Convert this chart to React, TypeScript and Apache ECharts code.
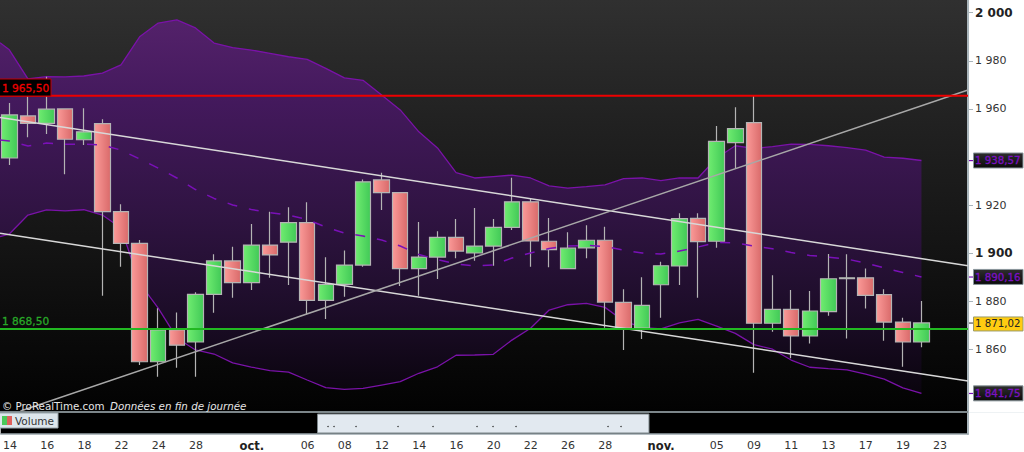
import React, { useEffect, useRef } from "react";
import * as echarts from "echarts";

const tradingDays = ["14","15","16","17","18","21","22","23","24","25","28","29","30","oct.","02","05","06","07","08","09","12","13","14","15","16","19","20","21","22","23","26","27","28","29","30","nov.","03","04","05","06","09","10","11","12","13","16","17","18","19","20","23","24"];
const hiddenLabels = [12, 14, 34, 36];
const extraLabels = [13, 35];

// [open, close, low, high]
const candles = [
  [1939.6,1957.5,1936.7,1962.5],[1957.1,1954.0,1948.2,1966],[1954.0,1959.9,1949.6,1973.4],[1960,1947.4,1932.8,1960],
  [1947.2,1950.5,1945,1960.3],[1953.9,1917.3,1882.3,1955.7],[1917.3,1904.1,1894.4,1920.4],[1904.1,1854.9,1853.5,1905.5],
  [1854.9,1868.1,1848.7,1877.1],[1868.1,1861.8,1852.4,1875.4],[1863.1,1882.9,1848.7,1883.8],[1882.9,1896.8,1875.3,1899.6],
  [1896.8,1887.8,1881.5,1902.7],[1887.8,1903.4,1884.7,1912.2],[1903.4,1899.3,1889.8,1917.3],[1904.6,1912.7,1886.8,1919.1],
  [1912.7,1880.4,1874.6,1921.2],[1880.4,1887.1,1872.7,1898.3],[1887.1,1895.1,1881.9,1901.1],[1895.1,1929.7,1894.4,1930.7],
  [1930.5,1925.2,1918,1933.5],[1925.2,1893.6,1886.4,1925.2],[1893.6,1898.4,1882.3,1913],[1898.4,1906.6,1889.3,1909.2],
  [1906.6,1900.9,1897.9,1914.2],[1900.1,1903,1896.9,1918.8],[1903,1910.8,1894.8,1914.2],[1910.8,1921.4,1909.7,1931.4],
  [1921.4,1905.1,1894.4,1922.8],[1905,1901.5,1894.2,1914.7],[1893.6,1902.1,1893.6,1908.7],[1902.2,1905.4,1897.9,1911.6],
  [1905.4,1879.7,1869,1911],[1879.6,1868.9,1859.8,1885],[1868.9,1878.3,1864.3,1890],[1886.9,1894.8,1873.2,1896.5],
  [1894.7,1914.4,1886.8,1916.6],[1914.5,1904.8,1881.5,1916.6],[1905,1946.5,1902.3,1952.9],[1946,1951.8,1935.3,1960.7],
  [1954.3,1870.9,1850.3,1965.4],[1870.9,1876.7,1867.4,1890.9],[1876.7,1865.6,1856.3,1884.7],[1865.6,1876,1862.5,1884.3],
  [1875.7,1889.4,1874,1899.7],[1889.4,1889.8,1864.6,1899.6],[1889.8,1882.5,1877,1893.7],[1882.8,1871.4,1863.6,1885],
  [1871.4,1863.1,1852.8,1873.2],[1863.1,1871.02,1860.9,1880.1],
];

// Bollinger bands: first value sits at the left edge of the pane, then one per candle
const upperBand = [1987.5,1984.6,1972.5,1973.4,1973.3,1973.7,1974.9,1978.3,1990.0,1995.7,1997.0,1993.7,1987.4,1985.5,1984.5,1983.1,1981.7,1980.6,1976.9,1972.9,1971.9,1965.8,1959.6,1950.5,1943.8,1933.5,1931.3,1931.9,1932.5,1931.3,1928,1927.1,1927.7,1928.4,1931,1931.3,1930.2,1931.3,1931.3,1939.6,1944.7,1943.6,1944.3,1945.4,1945.3,1944.7,1943.9,1942.9,1940,1939.5,1938.57];
const lowerBand = [1906.9,1908,1915.9,1918,1917.6,1918.1,1915.9,1910.5,1887.6,1877.2,1864.8,1859.8,1858.1,1854.4,1852.7,1851.2,1850.6,1847.3,1844.1,1843.4,1843.8,1845.2,1846.6,1850.1,1852.8,1857.6,1857.7,1858,1863.9,1868.8,1876.4,1878.6,1879.2,1877.5,1871.8,1869.2,1868.6,1871.1,1872.5,1869.7,1866.7,1862,1860.1,1855.6,1852.6,1852,1851.5,1849.7,1847.7,1844,1841.75];
const middleBand = [1947.1,1946.7,1944.6,1945.8,1945.3,1945.4,1945,1942.9,1939.2,1935.4,1931.3,1926.5,1922.8,1920.1,1918.2,1916.9,1915.9,1914,1910.9,1908.4,1907.2,1905.5,1903,1899.5,1897.4,1895.5,1894.7,1895.1,1898,1900.1,1902,1903,1903.3,1902.8,1901.3,1900.1,1899.7,1900.9,1902.6,1904.5,1904.3,1903,1901.9,1900.3,1899.1,1898.4,1897.6,1895.9,1893.9,1892,1890.16];

// Trend lines: [bar position, price]
const trendUpperChannel = [[-0.5, 1956.5], [51.5, 1894.8]];
const trendLowerChannel = [[-0.5, 1908.3], [51.5, 1846.9]];
const trendRising = [[0.6, 1834.4], [51.5, 1967.9]];
const resistance = [[-0.5, 1965.5], [51.5, 1965.5]];
const support = [[-0.5, 1868.5], [51.5, 1868.5]];

const priceTicks = [1860, 1880, 1900, 1920, 1960, 1980, 2000];
const boldTicks = [1900, 2000];
const priceTags = [
  { text: "1 938,57", value: 1938.57 },
  { text: "1 890,16", value: 1890.16 },
  { text: "1 841,75", value: 1841.75 },
];
const overviewDots = [328, 334, 356, 398, 433, 477, 493, 516, 608, 621];

const FONT = "'DejaVu Sans', sans-serif";
const Y_MIN = 1834;
const Y_MAX = 2005.3;
const PANE_H = 412;
const yOf = (v: number) => ((Y_MAX - v) / (Y_MAX - Y_MIN)) * PANE_H;
const withX = (arr: number[]) => arr.map((v, i) => [i === 0 ? -0.5 : i - 1, v]);
const fmtPrice = (v: number) => String(v).replace(/(\d)(\d{3})$/, "$1 $2");

const hGrad = (a: string, b: string) =>
  new echarts.graphic.LinearGradient(0, 0, 1, 0, [
    { offset: 0, color: a },
    { offset: 1, color: b },
  ]);

function txt(text: string, x: number, y: number, fill: string, extra: any = {}) {
  return {
    type: "text",
    z: 100,
    silent: true,
    style: { text, x, y, fill, fontFamily: FONT, fontSize: 11, verticalAlign: "middle", ...extra },
  };
}

function rect(x: number, y: number, width: number, height: number, fill: any, stroke?: string, lineWidth = 1) {
  return {
    type: "rect",
    z: 99,
    silent: true,
    shape: { x, y, width, height },
    style: { fill, stroke: stroke ?? "none", lineWidth },
  };
}

function tag(text: string, value: number) {
  const y = yOf(value);
  return [
    rect(969, y - 0.5, 5, 1.2, "#7a10b8"),
    rect(973.5, y - 7.5, 49.5, 15, new echarts.graphic.LinearGradient(0, 0, 0, 1, [
      { offset: 0, color: "#2e2e2e" },
      { offset: 1, color: "#0a0a0a" },
    ]), "#8a969c"),
    txt(text, 975, y + 0.5, "#7a10c0", { fontSize: 10.2, stroke: "#7a10c0", lineWidth: 0.35 }),
  ];
}

export default function App() {
  const ref = useRef<HTMLDivElement>(null);

  useEffect(() => {
    if (!ref.current) return;
    const chart = echarts.init(ref.current, undefined, { renderer: "svg" });

    const bandFill = new echarts.graphic.LinearGradient(0, 0, 0, PANE_H, [
      { offset: 0, color: "#58246e" },
      { offset: 0.25, color: "#43195c" },
      { offset: 0.5, color: "#311444" },
      { offset: 0.75, color: "#1d0d29" },
      { offset: 1, color: "#060308" },
    ], true);

    const lineBase = { type: "line", xAxisIndex: 1, yAxisIndex: 0, symbol: "none", silent: true };

    const axisShow = (i: number) =>
      extraLabels.includes(i) || (i % 2 === 0 && !hiddenLabels.includes(i));
    const tickShow = (i: number) => extraLabels.includes(i) || i % 2 === 0;

    chart.setOption({
      animation: false,
      backgroundColor: "#ffffff",
      grid: [
        {
          left: 0, top: 0, width: 968, height: PANE_H, show: true, borderWidth: 0,
          backgroundColor: new echarts.graphic.LinearGradient(0, 0, 0, 1, [
            { offset: 0, color: "#303030" },
            { offset: 0.3, color: "#212121" },
            { offset: 0.6, color: "#141414" },
            { offset: 1, color: "#020202" },
          ]),
        },
        { left: 0, top: PANE_H, width: 968, height: 23, show: true, borderWidth: 0, backgroundColor: "#000000" },
      ],
      xAxis: [
        { type: "category", gridIndex: 0, data: tradingDays, show: false },
        { type: "value", gridIndex: 0, min: -0.5, max: 51.5, show: false },
        {
          type: "category",
          gridIndex: 1,
          data: tradingDays,
          axisLine: { onZero: false, lineStyle: { color: "#9aa6ac", width: 1.5 } },
          axisTick: { alignWithLabel: true, length: 4, interval: (i: number) => tickShow(i), lineStyle: { color: "#9aa6ac" } },
          axisLabel: {
            interval: (i: number) => axisShow(i),
            margin: 6,
            fontFamily: FONT,
            fontSize: 11,
            color: "#333333",
            hideOverlap: false,
            formatter: (v: string) => (v.endsWith(".") ? `{b|${v}}` : v),
            rich: { b: { fontFamily: FONT, fontSize: 11.5, fontWeight: "bold", color: "#222222" } },
          },
        },
      ],
      yAxis: [
        {
          type: "value",
          gridIndex: 0,
          position: "right",
          min: Y_MIN,
          max: Y_MAX,
          splitLine: { show: false },
          axisLine: { show: true, onZero: false, lineStyle: { color: "#a9b5bb", width: 2 } },
          axisTick: { show: true, length: 5, customValues: priceTicks, lineStyle: { color: "#a9b5bb" } },
          axisLabel: {
            customValues: priceTicks,
            margin: 7,
            fontFamily: FONT,
            fontSize: 11,
            color: "#333333",
            formatter: (v: number) => (boldTicks.includes(v) ? `{b|${fmtPrice(v)}}` : fmtPrice(v)),
            rich: { b: { fontFamily: FONT, fontSize: 12, fontWeight: "bold", color: "#222222" } },
          },
        },
        {
          type: "value",
          gridIndex: 1,
          position: "right",
          min: 0,
          max: 1,
          splitLine: { show: false },
          axisTick: { show: false },
          axisLabel: { show: false },
          axisLine: { show: true, onZero: false, lineStyle: { color: "#a9b5bb", width: 2 } },
        },
      ],
      series: [
        {
          type: "custom",
          xAxisIndex: 1,
          yAxisIndex: 0,
          silent: true,
          z: 1,
          data: [[0, 1900]],
          renderItem: (params: any, api: any) => {
            if (params.dataIndex !== 0) return null;
            const top = withX(upperBand).map((p) => api.coord(p));
            const bottom = withX(lowerBand).map((p) => api.coord(p)).reverse();
            return { type: "polygon", shape: { points: [...top, ...bottom] }, style: { fill: bandFill } };
          },
        },
        { ...lineBase, z: 2, data: withX(upperBand), lineStyle: { color: "#7a12a8", width: 1.3 } },
        { ...lineBase, z: 2, data: withX(lowerBand), lineStyle: { color: "#7a12a8", width: 1.3 } },
        {
          type: "candlestick",
          xAxisIndex: 0,
          yAxisIndex: 0,
          silent: true,
          z: 3,
          barWidth: 16,
          data: candles,
          itemStyle: {
            color: hGrad("#6fec70", "#41c957"),
            color0: hGrad("#fb9a98", "#d96a6a"),
            borderColor: "#b4b4b4",
            borderColor0: "#b4b4b4",
            borderColorDoji: "#b4b4b4",
            borderWidth: 1.2,
          },
        },
        { ...lineBase, z: 4, data: withX(middleBand), lineStyle: { color: "#7a10b8", width: 1.5, type: [10, 12] } },
        { ...lineBase, z: 5, data: trendUpperChannel, lineStyle: { color: "#d8d8d8", width: 1.5 } },
        { ...lineBase, z: 5, data: trendLowerChannel, lineStyle: { color: "#d8d8d8", width: 1.5 } },
        { ...lineBase, z: 5, data: trendRising, lineStyle: { color: "#a8a8a8", width: 1.5 } },
        { ...lineBase, z: 6, data: resistance, lineStyle: { color: "#ee0000", width: 2 } },
        { ...lineBase, z: 6, data: support, lineStyle: { color: "#22b822", width: 2.2 } },
      ],
      graphic: {
        elements: [
          rect(0, PANE_H - 1, 968, 2, "#7c868a"),
          rect(969, PANE_H, 55, 1, "#eef2f4"),
          rect(-1, 79, 52, 17, "#000000", "#c00000"),
          txt("1 965,50", 2, 88, "#f00000", { fontSize: 10.6, stroke: "#f00000", lineWidth: 0.3 }),
          txt("1 868,50", 2, 321, "#28a828", { fontSize: 10.6, stroke: "#28a828", lineWidth: 0.3 }),
          txt("© ProRealTime.com", 2, 406, "#e6e6e6", { fontSize: 10.3 }),
          txt("Données en fin de journée", 110, 406, "#e6e6e6", { fontSize: 10.3, fontStyle: "italic" }),
          rect(-1, 413, 59, 15, "#dde6ec", "#9aa6ac"),
          rect(2, 416, 5, 9, "#4cc85a"),
          rect(7, 416, 5, 9, "#e0605c"),
          txt("Volume", 15, 421, "#333333", { fontSize: 10.5 }),
          rect(317.5, 414, 331.5, 19, "#e2e9f0", "#7c868a"),
          ...overviewDots.map((x) => ({
            type: "circle",
            z: 100,
            silent: true,
            shape: { cx: x, cy: 426.5, r: 0.7 },
            style: { fill: "#222222" },
          })),
          ...priceTags.flatMap((t) => tag(t.text, t.value)),
          rect(969, yOf(1871.02) - 0.5, 5, 1.2, "#555555"),
          rect(973.5, yOf(1871.02) - 6, 49.5, 14, "#ffcc11", "#9a9a6a"),
          txt("1 871,02", 975, yOf(1871.02) + 1, "#222222", { fontSize: 10.2 }),
        ],
      },
    });

    return () => chart.dispose();
  }, []);

  return <div ref={ref} style={{ position: "absolute", left: 0, top: 0, width: 1024, height: 452 }} />;
}
